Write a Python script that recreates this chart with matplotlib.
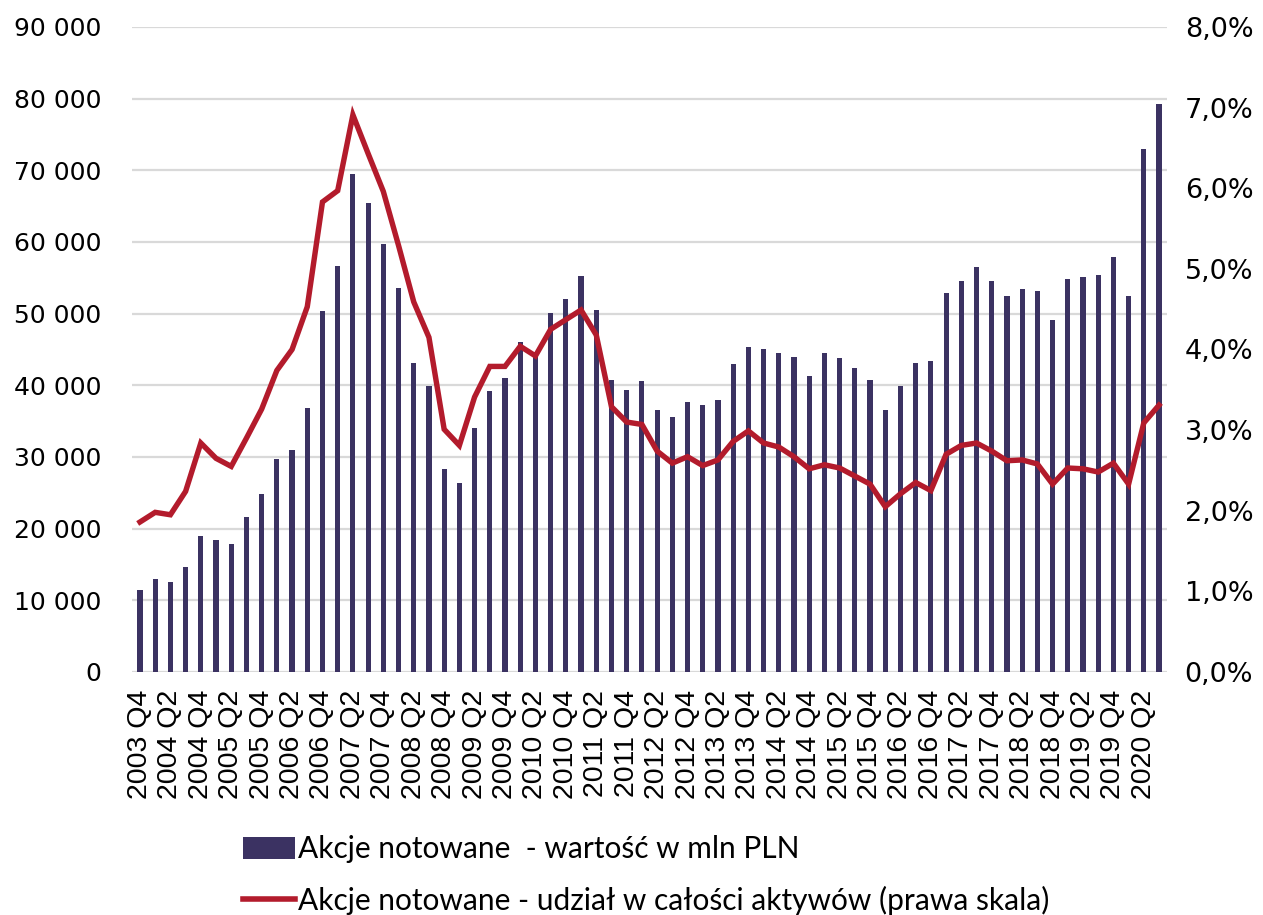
import matplotlib
matplotlib.use("Agg")
import matplotlib.pyplot as plt
from matplotlib.lines import Line2D
from matplotlib.patches import Patch

# quarterly categories 2003 Q4 .. 2020 Q3
quarters = ["2003 Q4"] + [f"{y} Q{q}" for y in range(2004, 2021) for q in (1, 2, 3, 4)]
quarters = quarters[:68]

# listed shares, value in mln PLN (left axis)
value_mln = [
    11500, 13000, 12500, 14600, 19000, 18400, 17900, 21600, 24900, 29700,
    31000, 36900, 50400, 56700, 69500, 65400, 59700, 53600, 43100, 39900,
    28300, 26400, 34000, 39200, 41000, 46000, 43900, 50100, 52100, 55300,
    50500, 40700, 39400, 40600, 36500, 35600, 37700, 37300, 37900, 43000,
    45300, 45100, 44500, 44000, 41300, 44500, 43800, 42400, 40700, 36600,
    39900, 43100, 43400, 52900, 54500, 56500, 54600, 52500, 53400, 53100,
    49100, 54900, 55100, 55400, 57900, 52400, 73000, 79200,
]

# share in total assets, % (right axis)
share_pct = [
    1.86, 1.98, 1.95, 2.24, 2.84, 2.65, 2.55, 2.90, 3.26, 3.74,
    4.00, 4.53, 5.83, 5.97, 6.91, 6.43, 5.96, 5.29, 4.59, 4.15,
    3.01, 2.81, 3.41, 3.79, 3.79, 4.04, 3.92, 4.25, 4.37, 4.49,
    4.18, 3.29, 3.10, 3.07, 2.74, 2.59, 2.67, 2.56, 2.63, 2.86,
    2.99, 2.84, 2.79, 2.67, 2.52, 2.57, 2.53, 2.43, 2.33, 2.05,
    2.21, 2.35, 2.25, 2.70, 2.81, 2.84, 2.74, 2.62, 2.63, 2.58,
    2.33, 2.53, 2.52, 2.48, 2.59, 2.33, 3.09, 3.31,
]

bar_color = "#3b3262"
line_color = "#b31b2c"
grid_color = "#d9d9d9"

fig = plt.figure(figsize=(12.63, 9.15), dpi=100)
ax = fig.add_axes([0.1048, 0.2656, 0.8189, 0.7049])
ax2 = ax.twinx()

x = list(range(len(quarters)))
ax.bar(x, value_mln, width=0.34, color=bar_color, zorder=2)
ax2.plot(x, share_pct, color=line_color, lw=3.9, solid_joinstyle="miter", zorder=3)

ax.set_xlim(-0.5, len(quarters) - 0.5)
ax.set_ylim(0, 90000)
ax2.set_ylim(0, 8)

left_ticks = list(range(0, 90001, 10000))
ax.set_yticks(left_ticks)
ax.set_yticklabels([f"{v:,}".replace(",", " ") for v in left_ticks],
                   fontsize=18, family="DejaVu Sans")
right_ticks = list(range(0, 9))
ax2.set_yticks(right_ticks)
ax2.set_yticklabels([f"{v:.1f}%".replace(".", ",") for v in right_ticks],
                    fontsize=19.5, family="DejaVu Sans")

ax.set_xticks(x[::2])
ax.set_xticklabels(quarters[::2], rotation=90, fontsize=20.5,
                   family=["Liberation Sans", "DejaVu Sans"])

ax.yaxis.grid(True, color=grid_color, lw=1.6, zorder=0)
ax.set_axisbelow(True)
for a in (ax, ax2):
    for s in a.spines.values():
        s.set_visible(False)
ax.tick_params(axis="both", length=0)
ax.tick_params(axis="y", pad=22.5)
ax.tick_params(axis="x", pad=13)
ax2.tick_params(axis="y", length=0, pad=13)

handles = [
    Patch(facecolor=bar_color, edgecolor="none"),
    Line2D([0], [0], color=line_color, lw=4),
]
labels = [
    "Akcje notowane  - wartość w mln PLN",
    "Akcje notowane - udział w całości aktywów (prawa skala)",
]
fig.legend(handles, labels, loc="upper left", bbox_to_anchor=(0.1924, 0.087),
           frameon=False, handlelength=1.75, handleheight=0.8, handletextpad=0.1,
           labelspacing=0.75, borderpad=0, borderaxespad=0,
           prop={"family": ["Lato", "DejaVu Sans"], "size": 21.5})

fig.savefig("out.png", dpi=100)
